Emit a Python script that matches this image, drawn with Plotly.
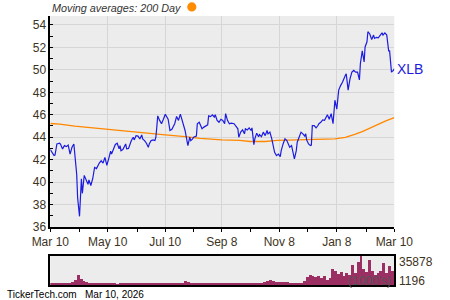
import pandas as pd
import plotly.graph_objects as go

# ---------------- data ----------------
start_date = "2025-03-10"
price_day_offsets = [
    0, 4, 5, 7, 10, 11, 13, 15, 17, 19, 21, 23, 25, 28, 29, 31, 33, 34, 36, 38,
    40, 41, 43, 45, 47, 49, 51, 52, 54, 56, 58, 59, 60, 62, 64, 65, 67, 69, 71, 73,
    74, 75, 77, 80, 81, 83, 86, 88, 89, 91, 93, 95, 97, 98, 100, 102, 104, 105, 107, 109,
    111, 112, 113, 114, 116, 118, 120, 122, 125, 127, 129, 131, 132, 134, 136, 138, 141, 143, 145, 146,
    148, 149, 151, 152, 155, 156, 158, 160, 161, 163, 165, 167, 168, 170, 172, 174, 175, 177, 179, 181,
    183, 185, 186, 188, 190, 192, 195, 197, 199, 200, 202, 204, 206, 207, 209, 211, 213, 214, 216, 217,
    219, 221, 222, 224, 226, 228, 230, 231, 233, 235, 237, 238, 240, 242, 244, 245, 247, 249, 251, 253,
    254, 256, 257, 259, 261, 262, 264, 266, 268, 270, 271, 272, 274, 276, 277, 278, 280, 282, 284, 285,
    287, 289, 291, 293, 294, 296, 298, 300, 302, 304, 306, 308, 310, 313, 314, 316, 318, 320, 322, 324,
    326, 328, 329, 331, 333, 334, 336, 337, 339, 341, 343, 344, 346, 348, 350, 352, 353, 355, 357, 359,
    360, 362, 364, 365,
]
price_values = [
    42.9, 42.37, 42.4, 43.4, 43.46, 43.35, 42.96, 43.25, 43.16, 43.3, 42.5, 43.1, 43.4, 40.7, 38.6, 36.95, 40.3, 39.0, 40.6, 40.1,
    39.8, 40.2, 39.7, 40.3, 41.3, 41.2, 41.6, 41.7, 41.9, 41.7, 42.2, 41.8, 41.5, 42.1, 42.75, 42.5, 42.96, 43.35, 43.46, 42.96,
    43.25, 42.8, 42.9, 43.4, 42.96, 43.0, 43.7, 44.0, 43.76, 44.14, 44.1, 43.85, 44.2, 43.85, 43.7, 43.46, 43.1, 43.4, 43.7, 43.76,
    43.7, 44.0, 44.9, 45.9, 45.5, 45.2, 45.6, 46.05, 45.6, 44.6, 44.7, 45.0, 45.2, 45.85, 45.5, 46.05, 45.2, 44.6, 43.7, 43.25,
    44.0, 43.7, 43.85, 44.0, 44.1, 45.2, 45.33, 44.95, 44.75, 44.9, 45.0, 45.1, 45.9, 45.84, 46.0, 45.8, 46.0, 45.5, 45.33, 45.6,
    45.5, 45.2, 46.1, 45.5, 45.2, 45.25, 45.2, 45.0, 44.75, 44.0, 44.45, 44.65, 44.3, 44.75, 44.65, 44.83, 44.6, 44.83, 43.34, 43.85,
    44.36, 44.05, 44.23, 44.05, 44.45, 44.14, 44.6, 44.3, 44.45, 43.85, 43.1, 42.65, 42.36, 42.5, 42.27, 42.8, 43.4, 43.85, 43.7, 43.25,
    43.1, 43.25, 42.8, 42.06, 42.8, 43.55, 44.0, 44.45, 44.3, 44.1, 44.3, 43.76, 43.4, 43.25, 43.3, 45.04, 45.04, 44.83, 45.04, 45.2,
    45.33, 45.55, 45.5, 45.85, 46.0, 45.6, 46.1, 45.2, 47.3, 46.5, 48.2, 48.6, 48.9, 49.5, 49.65, 48.2, 49.2, 49.8, 49.95, 49.8,
    49.8, 49.1, 50.55, 51.7, 50.7, 52.04, 52.5, 53.4, 53.2, 52.7, 53.1, 52.8, 52.9, 52.85, 53.1, 53.3, 53.1, 53.3, 53.1, 51.7,
    51.7, 49.8, 49.95, 50.1,
]

ma_day_offsets = [0, 10, 26, 42, 60, 79, 95, 111, 122, 143, 159, 182, 201, 212, 228,
                  241, 260, 280, 288, 302, 313, 318, 323, 331, 339, 344, 348, 356, 365]
ma_values = [45.22, 45.16, 44.98, 44.85, 44.65, 44.5, 44.38, 44.27, 44.2, 44.05, 43.9, 43.77, 43.72, 43.62, 43.62,
             43.72, 43.75, 43.76, 43.78, 43.85, 43.98, 44.1, 44.25, 44.5, 44.8, 45.04, 45.15, 45.45, 45.75]

volume_day_offsets = list(range(0, 366, 3))
volume_values = [
    3000, 1900, 1700, 1900, 1700, 2200, 1900, 2600, 3200, 6400,
    12000, 7700, 5100, 3900, 2600, 1900, 1900, 1700, 2600, 1700,
    1900, 1700, 2300, 1700, 1196, 1900, 1700, 1500, 1800, 1700,
    1700, 1500, 2600, 1700, 1900, 1500, 2300, 1700, 1900, 2600,
    1900, 3000, 1900, 1700, 2300, 2600, 1900, 1700, 5500, 3200,
    2600, 3000, 2600, 2300, 2800, 2300, 2600, 1900, 3000, 2300,
    1900, 1700, 1900, 1700, 2300, 1700, 1900, 1700, 2300, 1900,
    1900, 1700, 2300, 1900, 2600, 1900, 3200, 4500, 5800, 4500,
    3900, 3200, 3200, 3900, 3200, 2600, 2600, 1900, 1700, 2600,
    4500, 10300, 12900, 11600, 10300, 11600, 9000, 11000, 6400, 9000,
    20600, 18000, 14200, 16800, 11600, 15500, 12900, 25800, 15500, 28400,
    35878, 20600, 16800, 31000, 18000, 12900, 15500, 18000, 27100, 15500, 24500, 18000,
]

x_tick_dates = ["2025-03-10", "2025-05-10", "2025-07-10", "2025-09-08", "2025-11-08", "2026-01-08", "2026-03-10"]
x_tick_labels = ["Mar 10", "May 10", "Jul 10", "Sep 8", "Nov 8", "Jan 8", "Mar 10"]
x_minor_dates = ["2025-04-10", "2025-06-10", "2025-08-09", "2025-10-08", "2025-12-08", "2026-02-08"]
y_ticks = [36, 38, 40, 42, 44, 46, 48, 50, 52, 54]
ticker = "XLB"
vol_max_label = "35878"
vol_min_label = "1196"

# ---------------- build ----------------
base = pd.Timestamp(start_date)
price_dates = base + pd.to_timedelta(price_day_offsets, unit="D")
ma_dates = base + pd.to_timedelta(ma_day_offsets, unit="D")
vol_dates = base + pd.to_timedelta(volume_day_offsets, unit="D")

FONT = "Liberation Sans, Arial, sans-serif"
LABEL_COLOR = "#3d3322"
BG = "#ececec"
GRID = "#d6d6d6"

fig = go.Figure()
fig.add_trace(go.Scatter(x=ma_dates, y=ma_values, mode="lines",
                         line=dict(color="#ff8800", width=1.3), xaxis="x", yaxis="y",
                         hoverinfo="skip"))
fig.add_trace(go.Scatter(x=price_dates, y=price_values, mode="lines",
                         line=dict(color="#1c1ce0", width=1.2), xaxis="x", yaxis="y"))
fig.add_trace(go.Bar(x=vol_dates, y=volume_values, marker=dict(color="#9b2f63", line=dict(width=0)),
                     width=3 * 86400000, xaxis="x2", yaxis="y2"))

x_range = ["2025-03-10", "2026-03-10"]
xd = [50.3 / 450, 394.3 / 450]

fig.update_layout(
    width=450, height=300, autosize=False, margin=dict(l=0, r=0, t=0, b=0, pad=0, autoexpand=False),
    paper_bgcolor="white", plot_bgcolor=BG, showlegend=False, bargap=0,
    font=dict(family=FONT, size=12, color=LABEL_COLOR),
    xaxis=dict(domain=xd, range=x_range, type="date", anchor="y", automargin=False,
               tickmode="array", tickvals=x_tick_dates, ticktext=x_tick_labels,
               ticks="outside", ticklen=3, tickcolor="black", tickwidth=1,
               showgrid=True, gridcolor=GRID, gridwidth=1,
               showline=True, linecolor="black", linewidth=1.5,
               tickfont=dict(size=12, color=LABEL_COLOR),
               minor=dict(tickmode="array", tickvals=x_minor_dates, ticks="outside",
                          ticklen=3, tickcolor="black", showgrid=False),
               zeroline=False, fixedrange=True),
    yaxis=dict(domain=[1 - 227 / 300, 1 - 16 / 300], range=[36, 54.8], anchor="x", automargin=False,
               tickmode="array", tickvals=y_ticks,
               ticks="inside", ticklen=3, tickcolor="black",
               showgrid=True, gridcolor=GRID, gridwidth=1,
               showline=True, linecolor="black", linewidth=1.5,
               tickfont=dict(size=12, color=LABEL_COLOR),
               minor=dict(dtick=1, ticks="inside", ticklen=3, tickcolor="black", showgrid=False),
               zeroline=False, fixedrange=True),
    xaxis2=dict(domain=xd, range=x_range, type="date", anchor="y2", automargin=False,
                showticklabels=False, ticks="", showgrid=False,
                showline=True, mirror=True, linecolor="black", linewidth=1.5, zeroline=False),
    yaxis2=dict(domain=[1 - 285 / 300, 1 - 256 / 300], range=[0, 36500], anchor="x2", automargin=False,
                showticklabels=False, ticks="", showgrid=False,
                showline=True, mirror=True, linecolor="black", linewidth=1.5, zeroline=False),
)

annotations = [
    dict(text="<i>Moving averages: 200 Day</i>", xref="paper", yref="paper",
         x=50 / 450, y=1 - 7.5 / 300, xanchor="left", yanchor="middle", showarrow=False,
         font=dict(size=10.8, color="#333333")),
    dict(text=ticker, xref="x", yref="y", x=price_dates[-1], y=price_values[-1],
         xanchor="left", yanchor="middle", xshift=1, showarrow=False,
         font=dict(size=14, color="#1c1ce0")),
    dict(text=vol_max_label, xref="paper", yref="paper", x=397 / 450, y=1 - 262 / 300,
         xanchor="left", yanchor="middle", showarrow=False, font=dict(size=12, color=LABEL_COLOR)),
    dict(text=vol_min_label, xref="paper", yref="paper", x=397 / 450, y=1 - 281 / 300,
         xanchor="left", yanchor="middle", showarrow=False, font=dict(size=12, color=LABEL_COLOR)),
    dict(text="(1000's)", xref="paper", yref="paper", x=393 / 450, y=1 - 281 / 300,
         xanchor="right", yanchor="middle", showarrow=False, font=dict(size=12, color="#555555")),
    dict(text="TickerTech.com", xref="paper", yref="paper", x=5 / 450, y=1 - 294 / 300,
         xanchor="left", yanchor="middle", showarrow=False, font=dict(size=10, color="black")),
    dict(text="Mar 10, 2026", xref="paper", yref="paper", x=83 / 450, y=1 - 294 / 300,
         xanchor="left", yanchor="middle", showarrow=False, font=dict(size=10, color="black")),
]
fig.update_layout(annotations=annotations)

fig.add_shape(type="circle", xref="paper", yref="paper",
              x0=187.2 / 450, x1=196.4 / 450, y0=1 - 11.5 / 300, y1=1 - 2.3 / 300,
              fillcolor="#ff8c00", line=dict(width=0))

fig.write_html("out.html")
